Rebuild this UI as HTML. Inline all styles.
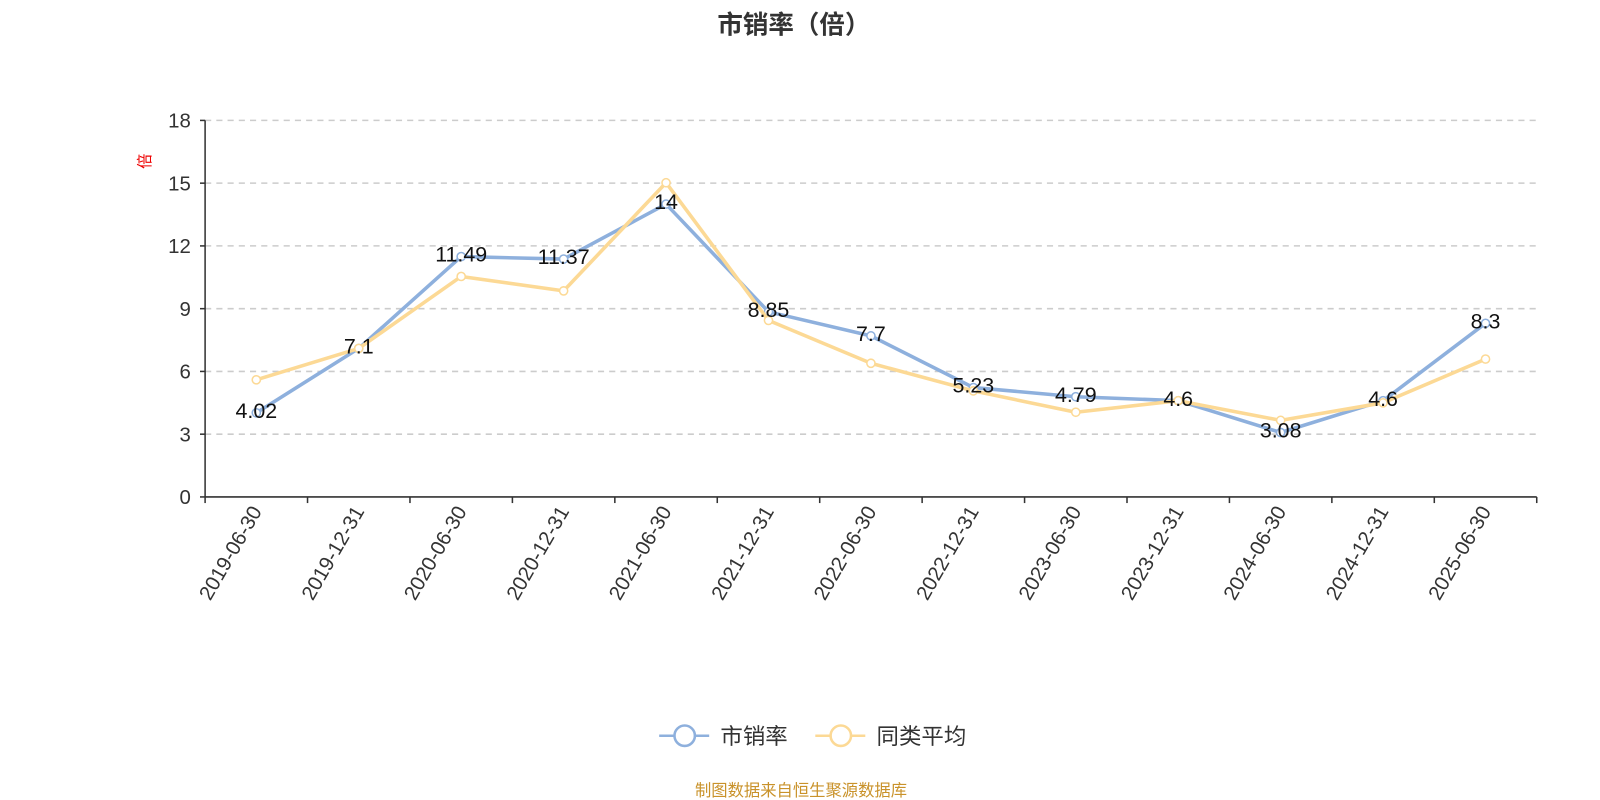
<!DOCTYPE html>
<html><head><meta charset="utf-8"><style>
body{margin:0;background:#fff;}
svg{display:block;font-family:"Liberation Sans","Noto Sans CJK SC",sans-serif;}
</style></head><body>
<svg id="chart" width="1600" height="800" viewBox="0 0 1568 784">
<text x="778" y="33" text-anchor="middle" font-size="25" font-weight="bold" fill="#333">市销率（倍）</text>
<text transform="translate(147,158) rotate(-90)" text-anchor="middle" font-size="15" fill="#e00">倍</text>
<g id="grid"></g>
<g id="axes"></g>
<g id="series"></g>
<g>
<g>
<line x1="646" y1="721" x2="695" y2="721" stroke="#8eb0dd" stroke-width="2.5"/>
<circle cx="671" cy="721" r="10" fill="#fff" stroke="#8eb0dd" stroke-width="2.5"/>
<text x="706" y="729" font-size="22" fill="#333">市销率</text></g>
<g>
<line x1="799" y1="721" x2="848" y2="721" stroke="#fcd995" stroke-width="2.5"/>
<circle cx="824" cy="721" r="10" fill="#fff" stroke="#fcd995" stroke-width="2.5"/>
<text x="859" y="729" font-size="22" fill="#333">同类平均</text></g>
</g>
<text x="785" y="780" text-anchor="middle" font-size="16" fill="#c9922a">制图数据来自恒生聚源数据库</text>
</svg>
<script>
const categories=["2019-06-30","2019-12-31","2020-06-30","2020-12-31","2021-06-30","2021-12-31","2022-06-30","2022-12-31","2023-06-30","2023-12-31","2024-06-30","2024-12-31","2025-06-30"];
const psValues=[4.02,7.1,11.49,11.37,14,8.85,7.7,5.23,4.79,4.6,3.08,4.6,8.3];
const avgValues=[5.6,7.1,10.54,9.85,15.02,8.44,6.39,5.07,4.05,4.6,3.66,4.5,6.59];
const yTicks=[0,3,6,9,12,15,18];
const NS="http://www.w3.org/2000/svg";
const x0=201,x1=1506,y0=487,y1=118,yMax=18;
const bw=(x1-x0)/categories.length;
const xs=i=>x0+bw*(i+0.5);
const ys=v=>y0-(v/yMax)*(y0-y1);
function mk(tag,attrs,parent){const e=document.createElementNS(NS,tag);for(const k in attrs)e.setAttribute(k,attrs[k]);parent.appendChild(e);return e;}
const grid=document.getElementById('grid'),axes=document.getElementById('axes'),series=document.getElementById('series');
yTicks.forEach(t=>{
  if(t>0){const l=mk('line',{x1:x0,x2:x1,y1:ys(t),y2:ys(t),stroke:'#ccc','stroke-width':1.5,'stroke-dasharray':'6,5'},grid);
  
  }
  const tx=mk('text',{x:x0-14,y:ys(t)+7,'text-anchor':'end','font-size':20,fill:'#333'},axes);
  tx.textContent=t;
  
  
});
mk('line',{x1:x0,x2:x0,y1:y1,y2:y0,stroke:'#333','stroke-width':1.5},axes);
mk('line',{x1:x0,x2:x1,y1:y0,y2:y0,stroke:'#333','stroke-width':1.5},axes);
yTicks.forEach(t=>mk('line',{x1:x0-5,x2:x0,y1:ys(t),y2:ys(t),stroke:'#333','stroke-width':1.5},axes));
for(let i=0;i<=categories.length;i++){mk('line',{x1:x0+bw*i,x2:x0+bw*i,y1:y0,y2:y0+6,stroke:'#333','stroke-width':1.5},axes);}
categories.forEach((c,i)=>{
  const tx=mk('text',{transform:`translate(${xs(i)+6},${y0+14}) rotate(-60)`,'text-anchor':'end','font-size':20,fill:'#333'},axes);
  tx.textContent=c;
  
  
});
function drawLine(vals,color,name){
  const pts=vals.map((v,i)=>xs(i)+','+ys(v)).join(' ');
  const pl=mk('polyline',{points:pts,fill:'none',stroke:color,'stroke-width':3.5,'stroke-linejoin':'round'},series);
  
  
  vals.forEach((v,i)=>{
    const c=mk('circle',{cx:xs(i),cy:ys(v),r:4,fill:'#fff',stroke:color,'stroke-width':1.5},series);
    
    
  });
}
drawLine(psValues,'#8eb0dd','ps');
drawLine(avgValues,'#fcd995','avg');
psValues.forEach((v,i)=>{
  const t=mk('text',{x:xs(i),y:ys(v)+5,'text-anchor':'middle','font-size':21,fill:'#111'},series);
  t.textContent=v;
  
  
});
</script>
</body></html>
